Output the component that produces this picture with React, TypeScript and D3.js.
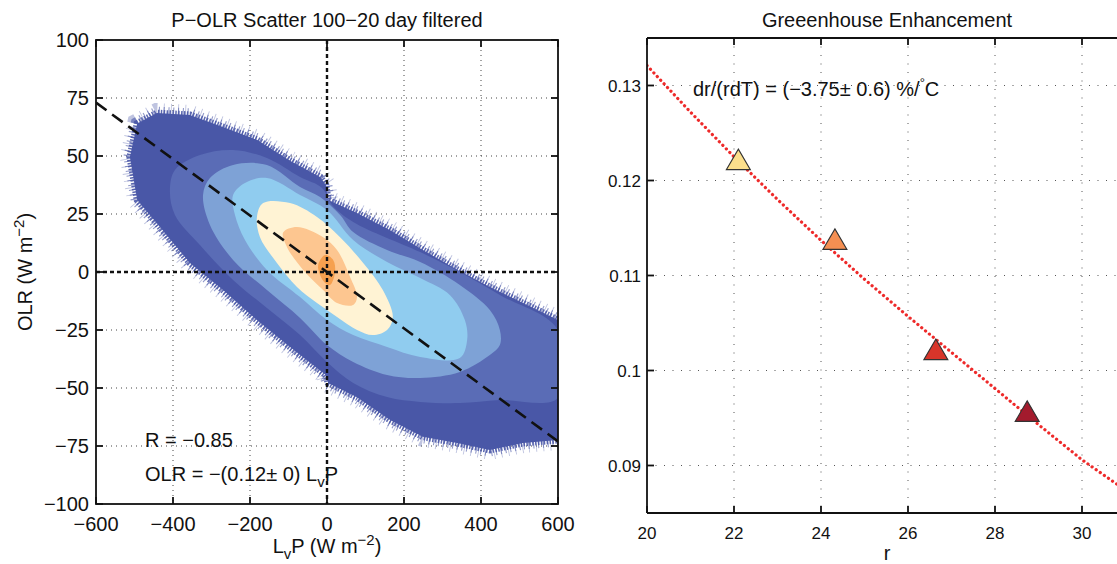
import React from 'react';
import * as d3 from 'd3';

const FONT = '"Liberation Sans", Arial, Helvetica, sans-serif';

// ---------- Left panel: P-OLR scatter density ----------
const lvpTicks = [-600, -400, -200, 0, 200, 400, 600];
const olrTicks = [-100, -75, -50, -25, 0, 25, 50, 75, 100];
const fitLvP = [-600, 600];
const fitOLR = [73, -73];

// density contour boundaries, [LvP, OLR]
const levelOuter: [number, number][] = [
  [-493, 64], [-442, 68.5], [-356, 67.7], [-270, 62.5], [-182, 57], [-96, 48], [-18, 41], [-3, 37.5],
  [3, 31], [78, 25.4], [164, 18], [249, 9.5], [338, 1], [423, -6.5], [509, -13.4], [600, -20.7],
  [600, -72.4], [509, -73.7], [423, -76.7], [338, -73.7], [249, -71], [164, -63.8], [78, -54], [3, -47.8],
  [-3, -44.4], [-96, -32.3], [-182, -20.7], [-270, -7.8], [-356, 3.9], [-442, 21], [-493, 31], [-512, 49.6],
];
const levelMedium: [number, number][] = [
  [-408, 35.3], [-395, 44], [-330, 50.4], [-244, 52.6], [-156, 49.1], [-70, 40.9], [-13, 36.2], [13, 28.9],
  [68, 21.6], [242, 8.6], [345, 0], [449, -9.9], [600, -25], [600, -54.3], [449, -55.2], [345, -56.5],
  [242, -56], [156, -53.9], [68, -47.8], [0, -38.8], [-70, -27.2], [-156, -15.5], [-244, -3.4], [-330, 11.6],
  [-395, 24.6],
];
const levelSteel: [number, number][] = [
  [-322, 33.2], [-304, 40.5], [-244, 46.1], [-156, 46.1], [-70, 36.6], [-18, 32.3], [34, 24.6], [68, 17.2],
  [156, 9.5], [242, 4.3], [345, -5.6], [423, -16.4], [449, -25], [449, -31.5], [423, -35.8], [345, -43.1],
  [242, -45.7], [156, -44.4], [68, -38.8], [0, -31.5], [-70, -19.8], [-156, -7.8], [-244, 5.2], [-304, 20.3],
];
const levelSky: [number, number][] = [
  [-244, 33.2], [-213, 38.4], [-156, 40.5], [-70, 33.2], [0, 26.7], [68, 13.8], [156, 4.3], [242, -2.6],
  [319, -9.9], [358, -20.7], [364, -29.3], [345, -37.1], [242, -36.6], [156, -32.3], [68, -27.2], [0, -20.7],
  [-70, -10.8], [-156, 0.9], [-213, 13.8], [-239, 24.6],
];
const levelCream: [number, number][] = [
  [-166, 29.7], [-96, 29.7], [-26, 23.7], [34, 15], [94, 3.9], [145, -7.8], [171, -19.4], [156, -25],
  [119, -27.2], [78, -25], [26, -19.4], [-26, -13.4], [-78, -6.5], [-130, 3.9], [-174, 15], [-182, 23.7],
];
const levelLightOrange: [number, number][] = [
  [-114, 17], [-78, 19.4], [-10, 15], [26, 9.5], [60, -2.2], [78, -10.8], [68, -14.2], [26, -13.4],
  [-10, -7.8], [-62, 0.9], [-104, 10.8],
];
const levelOrange: [number, number][] = [
  [-23, 3], [-5, 7.3], [16, 5.2], [21, 0], [8, -5.6], [-5, -4.7], [-18, -1.3],
];
const levels = [levelOuter, levelMedium, levelSteel, levelSky, levelCream, levelLightOrange, levelOrange];
const levelColors = ['#4957a7', '#5a6cb6', '#7ea2d6', '#90ccef', '#fff3d4', '#fdc690', '#f6a04f'];

// ---------- Right panel: greenhouse enhancement ----------
const rTicks = [20, 22, 24, 26, 28, 30];
const gTicks = [0.09, 0.1, 0.11, 0.12, 0.13];
const gTickLabels = ['0.09', '0.1', '0.11', '0.12', '0.13'];
const rPoints = [22.1, 24.32, 26.64, 28.74];
const gPoints = [0.1222, 0.1138, 0.1022, 0.0957];
const pointColors = ['#fbdf8c', '#f58f52', '#d8352a', '#a31b2d'];
const curveR = [20, 21, 22, 23, 24, 25, 26, 27, 28, 29, 30, 31];
const curveG = [0.1321, 0.1272, 0.1225, 0.118, 0.1137, 0.1096, 0.1057, 0.1019, 0.0981, 0.0943, 0.0906, 0.0874];

const fmt = (v: number) => (v < 0 ? '\u2212' + Math.abs(v) : String(v));

export default function App() {
  const W = 1117, H = 564;
  // left scales
  const xL = d3.scaleLinear().domain([-600, 600]).range([96, 558]);
  const yL = d3.scaleLinear().domain([-100, 100]).range([504, 40]);
  // right scales
  const xR = d3.scaleLinear().domain([20, 31]).range([647, 1125.5]);
  const yR = d3.scaleLinear().domain([0.085, 0.135]).range([513, 38]);

  const poly = d3.line<[number, number]>().x(d => xL(d[0])).y(d => yL(d[1])).curve(d3.curveLinearClosed);
  const smooth = d3.line<[number, number]>().x(d => xL(d[0])).y(d => yL(d[1])).curve(d3.curveCatmullRomClosed.alpha(0.5));
  const curveLine = d3.line<number>().x((_, i) => xR(curveR[i])).y((_, i) => yR(curveG[i]));

  const [lx0, lx1] = xL.range();
  const [ly0, ly1] = [yL(100), yL(-100)];
  const [rx0, rx1] = xR.range();
  const [ry0, ry1] = [yR(0.135), yR(0.085)];
  const tick = 7;

  return (
    <svg width={W} height={H} style={{ position: 'absolute', left: 0, top: 0, background: '#fff' }} fontFamily={FONT}>
      <defs>
        <clipPath id="clipL"><rect x={lx0} y={ly0} width={lx1 - lx0} height={ly1 - ly0} /></clipPath>
        <clipPath id="clipR"><rect x={rx0} y={ry0} width={rx1 - rx0} height={ry1 - ry0} /></clipPath>
      </defs>

      {/* ===== Left panel ===== */}
      <text x={(lx0 + lx1) / 2} y={27} textAnchor="middle" fontSize={20} fill="#111">P{'\u2212'}OLR Scatter 100{'\u2212'}20 day filtered</text>
      <g clipPath="url(#clipL)">
        {lvpTicks.filter(v => v !== 0 && v !== -600 && v !== 600).map(v => (
          <line key={'gx' + v} x1={xL(v)} x2={xL(v)} y1={ly0} y2={ly1} stroke="#444" strokeWidth={1} strokeDasharray="1 4" />
        ))}
        {olrTicks.filter(v => v !== 0 && Math.abs(v) !== 100).map(v => (
          <line key={'gy' + v} x1={lx0} x2={lx1} y1={yL(v)} y2={yL(v)} stroke="#444" strokeWidth={1} strokeDasharray="1 4" />
        ))}
        {/* ragged fringe of the outer contour */}
        <path d={poly(levelOuter) || ''} fill="none" stroke="#4957a7" strokeWidth={20} strokeDasharray="0.9 6.3" opacity={0.35} />
        <path d={poly(levelOuter) || ''} fill="none" stroke="#4957a7" strokeWidth={13} strokeDasharray="1.1 3.7" opacity={0.6} />
        <path d={poly(levelOuter) || ''} fill="none" stroke="#4957a7" strokeWidth={7} strokeDasharray="1.5 1.4" opacity={0.9} />
        {levels.map((lv, i) => (
          <path key={'lv' + i} d={(i === 0 ? poly(lv) : smooth(lv)) || ''} fill={levelColors[i]} stroke="none" />
        ))}
        {/* zero lines */}
        <line x1={xL(0)} x2={xL(0)} y1={ly0} y2={ly1} stroke="#111" strokeWidth={2.4} strokeDasharray="4 3" />
        <line x1={lx0} x2={lx1} y1={yL(0)} y2={yL(0)} stroke="#111" strokeWidth={2.4} strokeDasharray="4 3" />
        {/* regression line */}
        <line x1={xL(fitLvP[0])} y1={yL(fitOLR[0])} x2={xL(fitLvP[1])} y2={yL(fitOLR[1])} stroke="#111" strokeWidth={2.6} strokeDasharray="13 7" />
      </g>
      {/* axes box and ticks */}
      <rect x={lx0} y={ly0} width={lx1 - lx0} height={ly1 - ly0} fill="none" stroke="#111" strokeWidth={1.8} />
      {lvpTicks.map(v => (
        <g key={'tx' + v}>
          <line x1={xL(v)} x2={xL(v)} y1={ly1} y2={ly1 - tick} stroke="#111" strokeWidth={1.8} />
          <line x1={xL(v)} x2={xL(v)} y1={ly0} y2={ly0 + tick} stroke="#111" strokeWidth={1.8} />
          <text x={xL(v)} y={531} textAnchor="middle" fontSize={20} fill="#111">{fmt(v)}</text>
        </g>
      ))}
      {olrTicks.map(v => (
        <g key={'ty' + v}>
          <line x1={lx0} x2={lx0 + tick} y1={yL(v)} y2={yL(v)} stroke="#111" strokeWidth={1.8} />
          <line x1={lx1} x2={lx1 - tick} y1={yL(v)} y2={yL(v)} stroke="#111" strokeWidth={1.8} />
          <text x={89} y={yL(v) + 7} textAnchor="end" fontSize={20} fill="#111">{fmt(v)}</text>
        </g>
      ))}
      <text x={(lx0 + lx1) / 2} y={553} textAnchor="middle" fontSize={20} fill="#111">
        L<tspan dy={6} fontSize={15}>v</tspan><tspan dy={-6}>P (W m</tspan><tspan dy={-8} fontSize={15}>{'\u2212'}2</tspan><tspan dy={8}>)</tspan>
      </text>
      <text transform={`translate(32,${yL(0)}) rotate(-90)`} textAnchor="middle" fontSize={20} fill="#111">
        OLR (W m<tspan dy={-8} fontSize={15}>{'\u2212'}2</tspan><tspan dy={8}>)</tspan>
      </text>
      <text x={145} y={447} fontSize={20} fill="#111">R = {'\u2212'}0.85</text>
      <text x={145} y={481} fontSize={20} fill="#111">
        OLR = {'\u2212'}(0.12{'\u00b1'} 0) L<tspan dy={6} fontSize={15}>v</tspan><tspan dy={-6}>P</tspan>
      </text>

      {/* ===== Right panel ===== */}
      <text x={887} y={27} textAnchor="middle" fontSize={20} fill="#111">Greeenhouse Enhancement</text>
      <g clipPath="url(#clipR)">
        {rTicks.filter(v => v !== 20).map(v => (
          <line key={'rgx' + v} x1={xR(v)} x2={xR(v)} y1={ry0} y2={ry1} stroke="#555" strokeWidth={1} strokeDasharray="1 7.5" />
        ))}
        {gTicks.map(v => (
          <line key={'rgy' + v} x1={rx0} x2={rx1} y1={yR(v)} y2={yR(v)} stroke="#555" strokeWidth={1} strokeDasharray="1 7.5" />
        ))}
        <path d={curveLine(curveR) || ''} fill="none" stroke="#ee2a2a" strokeWidth={3.2} strokeDasharray="0.1 4.9" strokeLinecap="round" />
        {rPoints.map((r, i) => {
          const cx = xR(r), cy = yR(gPoints[i]);
          return (
            <path key={'tri' + i} d={`M${cx},${cy - 10.5}L${cx + 12},${cy + 10}L${cx - 12},${cy + 10}Z`}
              fill={pointColors[i]} stroke="#333" strokeWidth={1.1} strokeLinejoin="miter" />
          );
        })}
      </g>
      <line x1={rx0} x2={rx0} y1={ry0} y2={ry1} stroke="#111" strokeWidth={1.8} />
      <line x1={rx0} x2={rx1} y1={ry0} y2={ry0} stroke="#111" strokeWidth={1.8} />
      <line x1={rx0} x2={rx1} y1={ry1} y2={ry1} stroke="#111" strokeWidth={1.8} />
      {rTicks.map(v => (
        <g key={'rtx' + v}>
          <line x1={xR(v)} x2={xR(v)} y1={ry1} y2={ry1 - tick} stroke="#111" strokeWidth={1.8} />
          <line x1={xR(v)} x2={xR(v)} y1={ry0} y2={ry0 + tick} stroke="#111" strokeWidth={1.8} />
          <text x={xR(v)} y={539} textAnchor="middle" fontSize={17} fill="#111">{v}</text>
        </g>
      ))}
      {gTicks.map((v, i) => (
        <g key={'rty' + v}>
          <line x1={rx0} x2={rx0 + tick} y1={yR(v)} y2={yR(v)} stroke="#111" strokeWidth={1.8} />
          <text x={641} y={yR(v) + 6} textAnchor="end" fontSize={17} fill="#111">{gTickLabels[i]}</text>
        </g>
      ))}
      <text x={887} y={560} textAnchor="middle" fontSize={20} fill="#111">r</text>
      <text x={693} y={96} fontSize={20} fill="#111">
        dr/(rdT) = ({'\u2212'}3.75{'\u00b1'} 0.6) %/<tspan dy={-9} fontSize={13}>{'\u00b0'}</tspan><tspan dy={9}>C</tspan>
      </text>
    </svg>
  );
}
